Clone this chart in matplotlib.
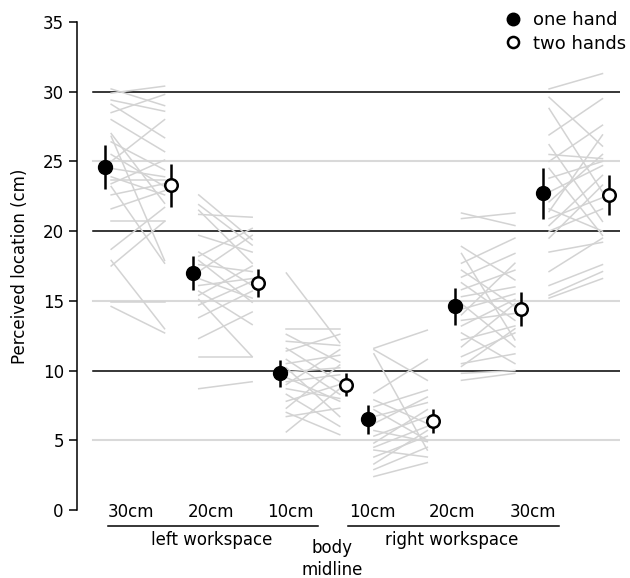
import numpy as np
import matplotlib
matplotlib.use("Agg")
import matplotlib.pylab as plt
from matplotlib.lines import Line2D

# workspace positions, left to right
dist_labels = ["30cm", "20cm", "10cm", "10cm", "20cm", "30cm"]

# group means and error bars (one hand / two hands)
one_mean = [24.6, 17.0, 9.8, 6.5, 14.6, 22.7]
one_err = [1.55, 1.25, 0.95, 1.05, 1.35, 1.8]
two_mean = [23.3, 16.3, 9.0, 6.4, 14.4, 22.6]
two_err = [1.55, 1.0, 0.8, 0.85, 1.2, 1.45]

# individual participants, one hand -> two hands
left30_one = [30.2, 29.9, 29.4, 29.1, 28.5, 28.0, 27.0, 26.8, 26.4, 25.5, 25.0, 24.5,
              23.9, 23.7, 23.4, 23.2, 22.6, 21.6, 20.7, 18.7, 17.9, 17.5, 14.9, 14.6]
left30_two = [29.0, 30.4, 28.6, 26.7, 29.8, 25.7, 22.0, 17.9, 24.4, 23.2, 28.0, 23.9,
              22.6, 23.7, 25.1, 17.7, 23.4, 22.9, 20.7, 21.7, 13.0, 20.7, 14.9, 12.7]
left20_one = [22.6, 21.9, 21.5, 21.2, 19.7, 18.5, 18.2, 17.9, 17.6, 17.1, 16.6, 16.1,
              15.7, 15.4, 15.1, 14.7, 13.8, 12.3, 11.0, 8.7]
left20_two = [19.4, 19.0, 17.7, 21.0, 18.5, 16.1, 20.2, 14.9, 17.1, 19.7, 15.2, 16.6,
              13.3, 17.5, 11.0, 16.4, 15.7, 14.2, 11.0, 9.2]
left10_one = [17.0, 13.0, 12.6, 12.1, 11.6, 11.4, 10.8, 10.5, 10.2, 9.9, 9.5, 9.2,
              9.0, 8.7, 8.3, 7.8, 7.3, 7.0, 6.7, 5.6]
left10_two = [12.0, 13.0, 10.6, 11.8, 9.2, 12.6, 8.3, 11.1, 6.7, 10.2, 7.8, 9.7,
              11.5, 8.0, 6.0, 9.0, 10.4, 5.4, 7.3, 8.7]
right10_one = [11.6, 11.5, 11.2, 8.4, 7.9, 7.4, 7.2, 6.7, 6.2, 5.7, 5.3, 4.8,
               4.5, 4.3, 3.8, 3.3, 2.9, 2.4]
right10_two = [12.9, 9.3, 4.3, 10.8, 6.2, 8.6, 5.0, 7.7, 8.1, 4.9, 6.7, 7.2,
               6.0, 3.8, 5.3, 5.7, 4.5, 3.4]
right20_one = [21.3, 20.9, 18.9, 18.4, 17.7, 17.2, 16.7, 16.3, 15.8, 15.3, 14.8, 14.4,
               14.0, 13.6, 13.2, 12.7, 12.2, 11.7, 11.0, 10.5, 10.3, 9.8, 9.3]
right20_two = [20.4, 21.3, 16.5, 12.2, 19.5, 14.6, 18.4, 13.6, 17.2, 16.0, 11.7, 15.5,
               17.7, 14.1, 15.1, 10.5, 13.2, 14.8, 12.7, 11.2, 13.0, 10.0, 9.8]
right30_one = [30.2, 29.6, 28.8, 26.9, 26.2, 25.5, 25.0, 24.5, 23.8, 22.8, 22.1, 21.6,
               21.4, 20.9, 20.4, 20.0, 19.5, 18.5, 17.1, 16.1, 15.4, 15.2]
right30_two = [31.3, 26.1, 22.8, 29.5, 20.7, 25.2, 27.6, 19.7, 25.0, 24.7, 25.5, 20.0,
               26.9, 22.4, 24.0, 21.6, 23.3, 19.2, 19.5, 17.6, 17.1, 16.6]

subjects = [(left30_one, left30_two), (left20_one, left20_two), (left10_one, left10_two),
            (right10_one, right10_two), (right20_one, right20_two), (right30_one, right30_two)]

plt.rcParams["font.family"] = "DejaVu Sans"
plt.rcParams["font.size"] = 12

fig = plt.figure(figsize=(6.3, 5.78), dpi=100)
ax = fig.add_axes([77 / 630, 1 - 510 / 578, (620 - 77) / 630, (510 - 22) / 578])

x = np.arange(len(one_mean))
x2 = x + 0.75

# reference lines
for yv in [5, 15, 25]:
    ax.plot([-0.14, 5.9], [yv, yv], color="#d9d9d9", lw=1.5, zorder=1)
for yv in [10, 20, 30]:
    ax.plot([-0.14, 5.9], [yv, yv], color="black", lw=1.1, zorder=1)

# participant lines
for i, (a, b) in enumerate(subjects):
    for ya, yb in zip(a, b):
        ax.plot([x[i] + 0.07, x[i] + 0.68], [ya, yb], color="#d3d3d3", lw=1.1, zorder=2)

ax.errorbar(x, one_mean, yerr=one_err, fmt="o", color="black", ms=10, elinewidth=1.8,
            capsize=0, zorder=4)
ax.errorbar(x2, two_mean, yerr=two_err, fmt="o", color="black", mfc="white", mec="black",
            mew=1.8, ms=9, elinewidth=1.8, capsize=0, zorder=4)

ax.set_xlim(-0.32, 5.88)
ax.set_ylim(0, 35)
ax.set_yticks(range(0, 36, 5))
ax.set_xticks([])
ax.set_ylabel("Perceived location (cm)", labelpad=10)
for s in ["top", "right", "bottom"]:
    ax.spines[s].set_visible(False)
ax.spines["left"].set_linewidth(1.1)
ax.tick_params(axis="y", length=6, width=1.1)

# workspace labels under the axis
label_x = [0.30, 1.21, 2.12, 3.05, 3.96, 4.89]
for lx, lab in zip(label_x, dist_labels):
    ax.text(lx, -0.15, lab, ha="center", va="center", clip_on=False)
ax.plot([0.03, 2.43], [-1.15, -1.15], color="black", lw=1.1, clip_on=False)
ax.plot([2.77, 5.18], [-1.15, -1.15], color="black", lw=1.1, clip_on=False)
ax.text(1.22, -2.15, "left workspace", ha="center", va="center", clip_on=False)
ax.text(3.96, -2.15, "right workspace", ha="center", va="center", clip_on=False)
ax.text(2.59, -2.73, "body", ha="center", va="center", clip_on=False)
ax.text(2.59, -4.28, "midline", ha="center", va="center", clip_on=False)

handles = [Line2D([], [], marker="o", ls="", color="black", ms=9),
           Line2D([], [], marker="o", ls="", mfc="white", mec="black", mew=1.8, ms=8)]
fig.legend(handles, ["one hand", "two hands"], loc="upper right", bbox_to_anchor=(1.0, 0.987),
           frameon=False, fontsize=13, handletextpad=0.6, handlelength=1.0,
           labelspacing=0.3, borderpad=0.2, borderaxespad=0.0)

plt.savefig("out.png", dpi=100)
